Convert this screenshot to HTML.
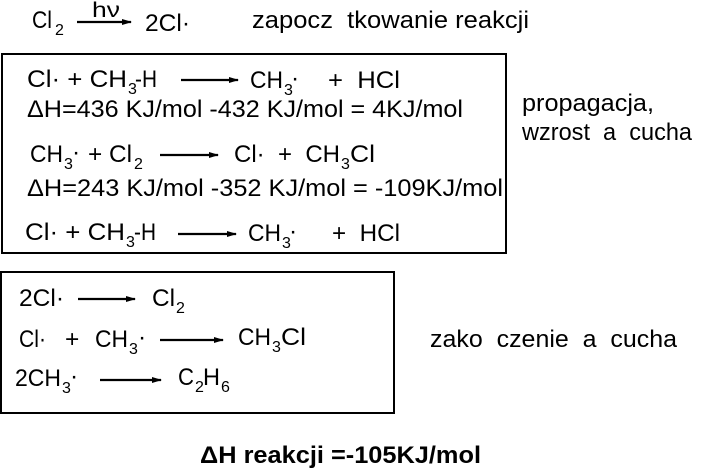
<!DOCTYPE html>
<html><head><meta charset="utf-8"><style>
html,body{margin:0;padding:0;background:#fff;}
svg{display:block;}
text{font-family:"Liberation Sans",sans-serif;fill:#000;white-space:pre;}
.s{font-size:16px;}
</style></head><body>
<svg width="707" height="470" viewBox="0 0 707 470" xmlns="http://www.w3.org/2000/svg" font-size="24.5" xml:space="preserve">
<defs>
<marker id="a" markerWidth="10" markerHeight="6" refX="9" refY="3" orient="auto" markerUnits="userSpaceOnUse">
<path d="M0,0 L10,3 L0,6 Z" fill="#000"/></marker>
</defs>
<g stroke="#000" stroke-width="2" fill="none">
<rect x="2" y="54" width="504" height="199"/>
<rect x="1" y="272" width="393" height="141"/>
</g>
<g stroke="#000" stroke-width="2.2" marker-end="url(#a)">
<line x1="77" y1="22" x2="131" y2="22"/>
<line x1="181" y1="80" x2="238" y2="80"/>
<line x1="160" y1="155" x2="218" y2="155"/>
<line x1="178" y1="234" x2="236" y2="234"/>
<line x1="78" y1="299" x2="135" y2="299"/>
<line x1="160" y1="340" x2="223" y2="340"/>
<line x1="100" y1="380" x2="161" y2="380"/>
</g>
<text x="32" y="28" textLength="20" lengthAdjust="spacingAndGlyphs">Cl</text><text class="s" x="55" y="35">2</text>
<text x="92" y="17" font-size="21" textLength="28" lengthAdjust="spacingAndGlyphs">hν</text>
<text x="145" y="31" textLength="45" lengthAdjust="spacingAndGlyphs">2Cl·</text>
<text x="252" y="28" textLength="277" lengthAdjust="spacingAndGlyphs">zapocz  tkowanie reakcji</text>
<text x="27" y="87" textLength="100" lengthAdjust="spacingAndGlyphs">Cl· + CH</text><text class="s" x="128" y="94">3</text><text x="135" y="87" textLength="22" lengthAdjust="spacingAndGlyphs">-H</text>
<text x="250" y="88" textLength="33" lengthAdjust="spacingAndGlyphs">CH</text><text class="s" x="284" y="95">3</text><text x="291" y="86">·</text>
<text x="328" y="88" textLength="72" lengthAdjust="spacingAndGlyphs">+  HCl</text>
<text x="27" y="117" textLength="436" lengthAdjust="spacingAndGlyphs">ΔH=436 KJ/mol -432 KJ/mol = 4KJ/mol</text>
<text x="30" y="162" textLength="33" lengthAdjust="spacingAndGlyphs">CH</text><text class="s" x="64" y="169">3</text><text x="72" y="160">·</text>
<text x="88" y="162" textLength="44" lengthAdjust="spacingAndGlyphs">+ Cl</text><text class="s" x="134" y="169">2</text>
<text x="234" y="162" textLength="106" lengthAdjust="spacingAndGlyphs">Cl·  +  CH</text><text class="s" x="341" y="169">3</text><text x="350" y="162" textLength="25" lengthAdjust="spacingAndGlyphs">Cl</text>
<text x="27" y="196" textLength="476" lengthAdjust="spacingAndGlyphs">ΔH=243 KJ/mol -352 KJ/mol = -109KJ/mol</text>
<text x="25" y="240" textLength="100" lengthAdjust="spacingAndGlyphs">Cl· + CH</text><text class="s" x="126" y="247">3</text><text x="134" y="240" textLength="22" lengthAdjust="spacingAndGlyphs">-H</text>
<text x="248" y="241" textLength="33" lengthAdjust="spacingAndGlyphs">CH</text><text class="s" x="282" y="248">3</text><text x="289" y="239">·</text>
<text x="332" y="241" textLength="68" lengthAdjust="spacingAndGlyphs">+  HCl</text>
<text x="522" y="111" textLength="132" lengthAdjust="spacingAndGlyphs">propagacja,</text>
<text x="522" y="140" textLength="170" lengthAdjust="spacingAndGlyphs">wzrost  a  cucha</text>
<text x="19" y="306" textLength="45" lengthAdjust="spacingAndGlyphs">2Cl·</text>
<text x="152" y="306" textLength="23" lengthAdjust="spacingAndGlyphs">Cl</text><text class="s" x="176" y="313">2</text>
<text x="19" y="347" textLength="27" lengthAdjust="spacingAndGlyphs">Cl·</text>
<text x="65" y="347">+</text>
<text x="95" y="347" textLength="33" lengthAdjust="spacingAndGlyphs">CH</text><text class="s" x="129" y="354">3</text><text x="138" y="345">·</text>
<text x="238" y="345" textLength="33" lengthAdjust="spacingAndGlyphs">CH</text><text class="s" x="272" y="352">3</text><text x="281" y="345" textLength="25" lengthAdjust="spacingAndGlyphs">Cl</text>
<text x="15" y="386" textLength="46" lengthAdjust="spacingAndGlyphs">2CH</text><text class="s" x="62" y="393">3</text><text x="70" y="384">·</text>
<text x="178" y="385" textLength="16" lengthAdjust="spacingAndGlyphs">C</text><text class="s" x="195" y="392">2</text><text x="203" y="385" textLength="17" lengthAdjust="spacingAndGlyphs">H</text><text class="s" x="221" y="392">6</text>
<text x="430" y="347" textLength="247" lengthAdjust="spacingAndGlyphs">zako  czenie  a  cucha</text>
<text x="200" y="463" font-weight="bold" textLength="281" lengthAdjust="spacingAndGlyphs">ΔH reakcji =-105KJ/mol</text>
</svg>
</body></html>
